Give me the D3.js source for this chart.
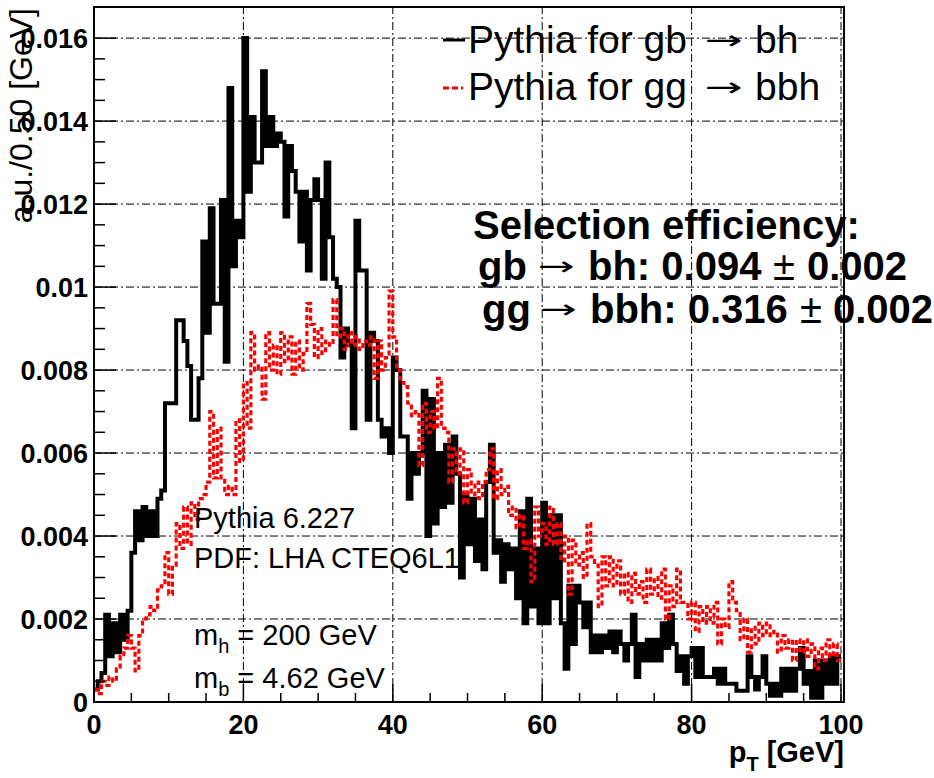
<!DOCTYPE html>
<html><head><meta charset="utf-8">
<script src="https://cdn.jsdelivr.net/npm/d3@7"></script>
<style>
body{margin:0;background:#fff}
svg{display:block}
text{fill:#000}
</style>
</head><body>
<svg id="chart" width="934" height="778" font-family="Liberation Sans, Arial, Helvetica, sans-serif"></svg>
<script>
// ---- data ----
const binWidth = 0.5; // GeV
const gbBh = [
0.0003,0.0005,0.0007,0.0021,0.0011,0.0019,0.0012,0.0021,0.0015,0.0022,
0.0036,0.0046,0.0039,0.0047,0.0040,0.0046,0.0040,0.0049,0.0051,0.0072,
0.0072,0.0072,0.0092,0.0092,0.0087,0.0081,0.0068,0.0068,0.0078,0.0111,
0.0089,0.0119,0.0096,0.0096,0.0121,0.0082,0.0148,0.0105,0.0116,0.0112,
0.0160,0.0123,0.0141,0.0130,0.0130,0.0152,0.0134,0.0141,0.0134,0.0137,
0.0135,0.0117,0.0134,0.0128,0.0123,0.0111,0.0123,0.0104,0.0121,0.0126,
0.0121,0.0102,0.0130,0.0112,0.0102,0.0100,0.0083,0.0090,0.0086,0.0066,
0.0116,0.0104,0.0104,0.0068,0.0089,0.0087,0.0068,0.0064,0.0066,0.0060,
0.0083,0.0080,0.0064,0.0064,0.0049,0.0060,0.0055,0.0060,0.0075,0.0040,
0.0073,0.0043,0.0060,0.0047,0.0062,0.0048,0.0064,0.0055,0.0030,0.0050,
0.0038,0.0049,0.0034,0.0044,0.0032,0.0053,0.0062,0.0036,0.0039,0.0029,
0.0038,0.0032,0.0037,0.0025,0.0046,0.0019,0.0049,0.0023,0.0037,0.0019,
0.0048,0.0019,0.0045,0.0025,0.0045,0.0019,0.0008,0.0028,0.0014,0.0028,
0.0024,0.0018,0.0024,0.0012,0.0016,0.0012,0.0016,0.0013,0.0017,0.0012,
0.0017,0.0014,0.0010,0.0014,0.0021,0.0006,0.0014,0.0010,0.0015,0.0010,
0.0015,0.0010,0.0019,0.0013,0.0021,0.0014,0.00075,0.0011,0.00044,0.0011,
0.0013,0.0006,0.0013,0.0006,0.0006,0.0006,0.0008,0.00044,0.0008,0.00044,
0.00044,0.00044,0.00027,0.00027,0.00027,0.0011,0.0006,0.0003,0.0006,0.0011,
0.00044,0.00015,0.00044,0.00015,0.0008,0.00027,0.0008,0.00027,0.0008,0.0013,
0.00044,0.00075,0.0001,0.0010,0.0001,0.0010,0.00044,0.0011,0.00044,0.0011
];
const ggBbh = [
0.0003,0.0002,0.0005,0.0004,0.0006,0.0005,0.0008,0.0011,0.0013,0.0016,
0.0013,0.00075,0.0016,0.0020,0.0021,0.0023,0.0022,0.0027,0.0028,0.0036,
0.0026,0.0033,0.0043,0.0037,0.0047,0.0038,0.0048,0.0044,0.0049,0.0050,
0.0053,0.0070,0.0054,0.0066,0.0054,0.0050,0.0052,0.0050,0.0068,0.0058,
0.0077,0.0066,0.0089,0.0080,0.0081,0.0073,0.0089,0.0080,0.0086,0.0079,
0.0089,0.0082,0.0088,0.0079,0.0087,0.0080,0.0084,0.0096,0.0091,0.0083,
0.0090,0.0084,0.0087,0.0086,0.0097,0.0088,0.0090,0.0085,0.0089,0.0086,
0.0088,0.0085,0.0087,0.0086,0.0088,0.0078,0.0087,0.0080,0.0083,0.0099,
0.0088,0.0080,0.0077,0.0076,0.0072,0.0069,0.0070,0.0057,0.0072,0.0065,
0.0070,0.0066,0.0078,0.0066,0.0065,0.0053,0.0061,0.0055,0.0061,0.0048,
0.0056,0.0050,0.0053,0.0049,0.0053,0.0056,0.0061,0.0049,0.0056,0.0050,
0.0052,0.0045,0.0047,0.0042,0.0045,0.0037,0.0039,0.0029,0.0047,0.0040,
0.0043,0.0038,0.0047,0.0038,0.0043,0.0034,0.0040,0.0026,0.0039,0.0033,
0.0036,0.0030,0.0043,0.0035,0.0033,0.0023,0.0035,0.0028,0.0035,0.0028,
0.0034,0.0026,0.0031,0.0024,0.0031,0.0026,0.0029,0.0024,0.0032,0.0026,
0.0030,0.0025,0.0032,0.0020,0.0028,0.0023,0.0032,0.0024,0.0024,0.0020,
0.0024,0.0017,0.0023,0.0019,0.0023,0.0019,0.0024,0.0014,0.0020,0.0018,
0.0029,0.0024,0.0022,0.0015,0.0020,0.0012,0.0018,0.0014,0.0019,0.0016,
0.0019,0.0016,0.0017,0.0012,0.0016,0.0013,0.0015,0.0010,0.0015,0.0012,
0.0015,0.0011,0.0014,0.0008,0.0013,0.0010,0.0015,0.0011,0.0014,0.0010
];
const xTickValues = [0, 20, 40, 60, 80, 100];
const xTickLabels = ["0", "20", "40", "60", "80", "100"];
const yTickValues = [0, 0.002, 0.004, 0.006, 0.008, 0.01, 0.012, 0.014, 0.016];
const yTickLabels = ["0", "0.002", "0.004", "0.006", "0.008", "0.01", "0.012", "0.014", "0.016"];
const legendLabels = [["Pythia for gb", "bh"], ["Pythia for gg", "bbh"]];
const infoLines = ["Pythia 6.227", "PDF: LHA CTEQ6L1"];

// ---- layout ----
const L = 94, R = 841, T = 7, B = 702;
const svg = d3.select("#chart");
const x = d3.scaleLinear().domain([0, 100]).range([L, R]);
const y = d3.scaleLinear().domain([0, 0.01675]).range([B, T]);
const ARROW_FONT = "DejaVu Sans, sans-serif";

// grid
const grid = svg.append("g").attr("stroke", "#000").attr("stroke-width", 1)
  .attr("stroke-dasharray", "8,3,2,3").attr("fill", "none");
xTickValues.filter(v => v > 0).forEach(v => {
  grid.append("line").attr("x1", x(v)).attr("x2", x(v)).attr("y1", B).attr("y2", T);
});
yTickValues.filter(v => v > 0).forEach(v => {
  grid.append("line").attr("x1", L).attr("x2", R + 3).attr("y1", y(v)).attr("y2", y(v));
});

// histograms
svg.append("clipPath").attr("id", "clip").append("rect")
  .attr("x", L).attr("y", T).attr("width", R + 3 - L).attr("height", B - T);
function stepPoints(vals) {
  const pts = vals.map((v, i) => [i * binWidth, v]);
  pts.push([vals.length * binWidth, vals[vals.length - 1]]);
  return pts;
}
const line = d3.line().x(d => x(d[0])).y(d => y(d[1])).curve(d3.curveStepAfter);
const plot = svg.append("g").attr("clip-path", "url(#clip)");
plot.append("path").attr("d", line(stepPoints(gbBh)))
  .attr("fill", "none").attr("stroke", "#000").attr("stroke-width", 4)
  .attr("stroke-linejoin", "miter");
plot.append("path").attr("d", line(stepPoints(ggBbh)))
  .attr("fill", "none").attr("stroke", "#ff0000").attr("stroke-width", 3.2)
  .attr("stroke-dasharray", "5,3");

// frame
svg.append("rect").attr("x", L).attr("y", T).attr("width", R + 3 - L).attr("height", B - T)
  .attr("fill", "none").attr("stroke", "#000").attr("stroke-width", 2);

// ticks
const ticks = svg.append("g").attr("stroke", "#000").attr("stroke-width", 1.5);
d3.range(0, 101, 5).forEach(v => {
  const major = v % 20 === 0;
  ticks.append("line").attr("x1", x(v)).attr("x2", x(v)).attr("y1", B).attr("y2", B - (major ? 18 : 9));
});
d3.range(0, 33).map(k => k * 0.0005).forEach((v, k) => {
  const major = k % 4 === 0;
  ticks.append("line").attr("x1", L).attr("x2", L + (major ? 22 : 11)).attr("y1", y(v)).attr("y2", y(v));
});

// tick labels
svg.append("g").selectAll("text").data(xTickValues).join("text")
  .attr("x", d => x(d)).attr("y", 734).attr("text-anchor", "middle")
  .attr("font-size", 27).attr("font-weight", "bold")
  .text((d, i) => xTickLabels[i]);
svg.append("g").selectAll("text").data(yTickValues).join("text")
  .attr("x", 88).attr("y", d => y(d) + 10).attr("text-anchor", "end")
  .attr("font-size", 27).attr("font-weight", "bold")
  .text((d, i) => yTickLabels[i]);

// axis titles
const xt = svg.append("text").attr("x", 844).attr("y", 762).attr("text-anchor", "end")
  .attr("font-size", 29).attr("font-weight", "bold");
xt.append("tspan").text("p");
xt.append("tspan").attr("font-size", 20).attr("dy", 9).text("T");
xt.append("tspan").attr("dy", -9).text(" [GeV]");
svg.append("text").attr("transform", "translate(32,8) rotate(-90)")
  .attr("text-anchor", "end").attr("font-size", 32).text("a.u./0.50 [GeV]");

// legend
const legendRows = [53, 100];
svg.append("line").attr("x1", 443).attr("x2", 465).attr("y1", 40).attr("y2", 40)
  .attr("stroke", "#000").attr("stroke-width", 3);
svg.append("line").attr("x1", 443).attr("x2", 463).attr("y1", 88).attr("y2", 88)
  .attr("stroke", "#ff0000").attr("stroke-width", 3).attr("stroke-dasharray", "6,3");
legendLabels.forEach((lab, i) => {
  svg.append("text").attr("x", 468).attr("y", legendRows[i]).attr("font-size", 39).text(lab[0]);
  svg.append("text").attr("x", 705).attr("y", legendRows[i] - 4).attr("font-size", 26)
    .attr("font-family", ARROW_FONT).attr("textLength", 38)
    .attr("lengthAdjust", "spacingAndGlyphs").text("\u2192");
  svg.append("text").attr("x", 755).attr("y", legendRows[i]).attr("font-size", 39).text(lab[1]);
});

// selection efficiency block
svg.append("text").attr("x", 473).attr("y", 239).attr("font-size", 40).attr("font-weight", "bold")
  .text("Selection efficiency:");
const effRows = [
  {y: 280, parts: [["gb", 478, "bold"], ["\u2192", 538, "arrow"], ["bh: 0.094", 588, "bold"], ["\u00b1", 773, "normal"], ["0.002", 807, "bold"]]},
  {y: 323, parts: [["gg", 482, "bold"], ["\u2192", 540, "arrow"], ["bbh: 0.316", 590, "bold"], ["\u00b1", 800, "normal"], ["0.002", 833, "bold"]]}
];
effRows.forEach(r => {
  r.parts.forEach(p => {
    const t = svg.append("text").attr("x", p[1]).attr("y", r.y).attr("font-size", 40).text(p[0]);
    if (p[2] === "arrow") {
      t.attr("y", r.y - 5).attr("font-size", 26).attr("font-family", ARROW_FONT)
       .attr("textLength", 37).attr("lengthAdjust", "spacingAndGlyphs");
    } else t.attr("font-weight", p[2]);
  });
});

// info block
svg.append("text").attr("x", 194).attr("y", 528).attr("font-size", 29).text(infoLines[0]);
svg.append("text").attr("x", 194).attr("y", 568).attr("font-size", 29).text(infoLines[1]);
const mh = svg.append("text").attr("x", 194).attr("y", 645).attr("font-size", 29);
mh.append("tspan").text("m");
mh.append("tspan").attr("font-size", 20).attr("dy", 8).text("h");
mh.append("tspan").attr("dy", -8).text(" = 200 GeV");
const mb = svg.append("text").attr("x", 194).attr("y", 688).attr("font-size", 29);
mb.append("tspan").text("m");
mb.append("tspan").attr("font-size", 20).attr("dy", 8).text("b");
mb.append("tspan").attr("dy", -8).text(" = 4.62 GeV");
</script>
</body></html>
